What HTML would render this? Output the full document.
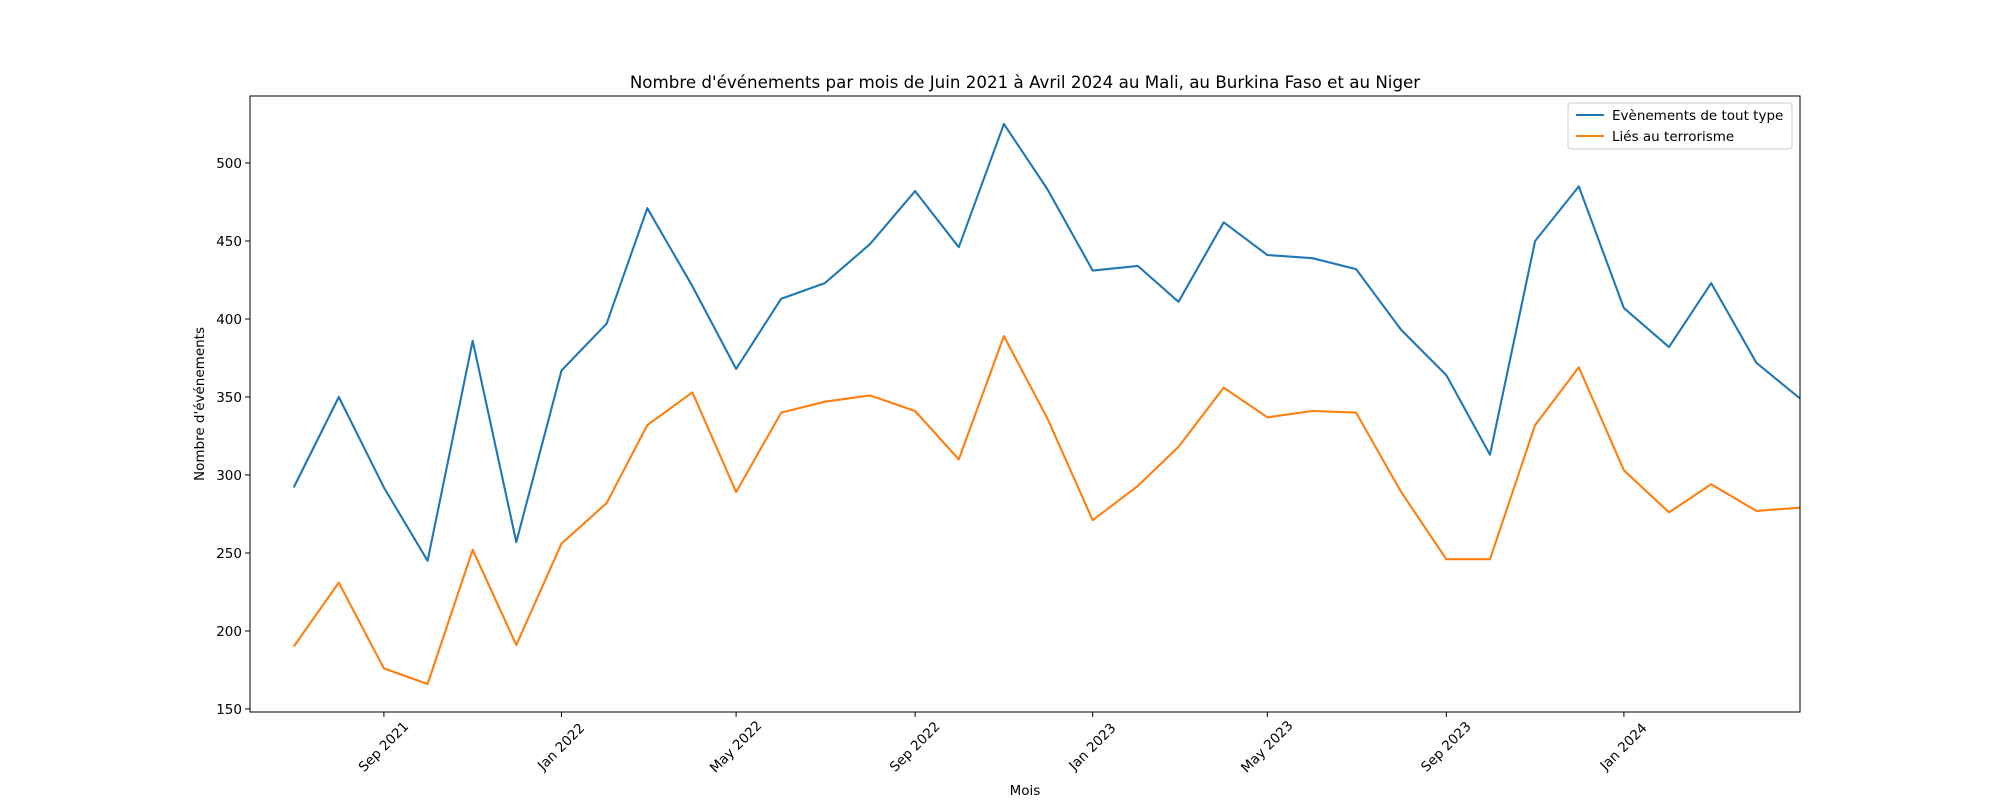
<!DOCTYPE html>
<html><head><meta charset="utf-8"><style>body{margin:0;background:#fff}svg{display:block;font-family:"DejaVu Sans","Liberation Sans",sans-serif}</style></head>
<body>
<svg id="chart" width="2000" height="800" viewBox="0 0 2000 800" xmlns="http://www.w3.org/2000/svg">
<rect width="2000" height="800" fill="#fff"/>
<text x="1025" y="88" font-size="16.7" text-anchor="middle">Nombre d'événements par mois de Juin 2021 à Avril 2024 au Mali, au Burkina Faso et au Niger</text>
<g id="plot"></g>
<rect x="250" y="96" width="1550" height="616" fill="none" stroke="#000" stroke-width="1"/>
<text transform="translate(204,404) rotate(-90)" font-size="13.5" text-anchor="middle">Nombre d'événements</text>
<text x="1025" y="795" font-size="13.5" text-anchor="middle">Mois</text>
<g>
<rect x="1568" y="103" width="224" height="46" rx="3" fill="#fff" fill-opacity="0.8" stroke="#ccc"/>
<line x1="1576" y1="115" x2="1604" y2="115" stroke="#1f77b4" stroke-width="2.1"/>
<text x="1612" y="120" font-size="13.5">Evènements de tout type</text>
<line x1="1576" y1="136" x2="1604" y2="136" stroke="#ff7f0e" stroke-width="2.1"/>
<text x="1612" y="141" font-size="13.5">Liés au terrorisme</text>
</g>
</svg>
<script>
const months = ["2021-07","2021-08","2021-09","2021-10","2021-11","2021-12","2022-01","2022-02","2022-03","2022-04","2022-05","2022-06","2022-07","2022-08","2022-09","2022-10","2022-11","2022-12","2023-01","2023-02","2023-03","2023-04","2023-05","2023-06","2023-07","2023-08","2023-09","2023-10","2023-11","2023-12","2024-01","2024-02","2024-03","2024-04","2024-05"];
const allEvents = [292,350,292,245,386,257,367,397,471,421,368,413,423,448,482,446,525,483,431,434,411,462,441,439,432,393,364,313,450,485,407,382,423,372,349];
const terrorEvents = [190,231,176,166,252,191,256,282,332,353,289,340,347,351,341,310,389,336,271,293,318,356,337,341,340,289,246,246,332,369,303,276,294,277,279];
const yTicks = [150,200,250,300,350,400,450,500];
const xTicks = ["2021-09","2022-01","2022-05","2022-09","2023-01","2023-05","2023-09","2024-01"];
const xTickLabels = ["Sep 2021","Jan 2022","May 2022","Sep 2022","Jan 2023","May 2023","Sep 2023","Jan 2024"];

const NS="http://www.w3.org/2000/svg";
const L=250,R=1800,T=96,B=712;
const d0=Date.UTC(2021,5,1), d1=Date.UTC(2024,4,1);
function toT(s){const p=s.split("-");return Date.UTC(+p[0],+p[1]-1,1);}
function x(s){return L+(toT(s)-d0)/(d1-d0)*(R-L);}
const yMin=148.05,yMax=542.95;
function y(v){return B-(v-yMin)/(yMax-yMin)*(B-T);}
const g=document.getElementById("plot");
function mk(t,a){const e=document.createElementNS(NS,t);for(const k in a)e.setAttribute(k,a[k]);g.appendChild(e);return e;}
yTicks.forEach(v=>{
  const ln=mk("line",{x1:L-4.9,x2:L,y1:y(v),y2:y(v),stroke:"#000"});
  
  
  const t=mk("text",{x:L-8,y:y(v)+5,"font-size":"13.5","text-anchor":"end"});
  t.textContent=v;
  
  
});
xTicks.forEach((m,i)=>{
  const xx=x(m);
  const ln=mk("line",{x1:xx,x2:xx,y1:B,y2:B+4.9,stroke:"#000"});
  
  
  const t=mk("text",{transform:`translate(${xx},${B+35}) rotate(-45)`,"font-size":"13.5","text-anchor":"middle","dominant-baseline":"central"});
  t.textContent=xTickLabels[i];
  
  
});
function series(vals,color,name){
  const pts=vals.map((v,i)=>x(months[i]).toFixed(1)+","+y(v).toFixed(1)).join(" ");
  const p=mk("polyline",{points:pts,fill:"none",stroke:color,"stroke-width":"2.1","stroke-linejoin":"round"});
  
  
}
series(allEvents,"#1f77b4","line-all-events");
series(terrorEvents,"#ff7f0e","line-terrorism");
</script>
</body></html>
